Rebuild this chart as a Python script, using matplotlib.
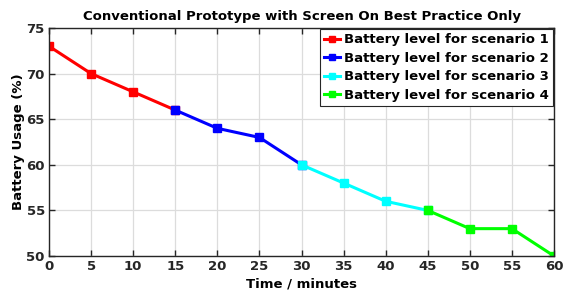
import matplotlib
matplotlib.use("Agg")
import matplotlib.pyplot as plt

plt.rcParams['font.family'] = ['DejaVu Sans']
plt.rcParams['font.weight'] = 'bold'

x1 = [0, 5, 10, 15]
y1 = [73, 70, 68, 66]
x2 = [15, 20, 25, 30]
y2 = [66, 64, 63, 60]
x3 = [30, 35, 40, 45]
y3 = [60, 58, 56, 55]
x4 = [45, 50, 55, 60]
y4 = [55, 53, 53, 50]
labels = ['Battery level for scenario 1', 'Battery level for scenario 2',
          'Battery level for scenario 3', 'Battery level for scenario 4']
colors = ['#ff0000', '#0000ff', '#00ffff', '#00ff00']
xticks = list(range(0, 61, 5))
yticks = [50, 55, 60, 65, 70, 75]

fig = plt.figure(figsize=(5.64, 2.96), dpi=100)
ax = fig.add_axes([0.0869, 0.1351, 0.8954, 0.7703])
for xs, ys, c, lab in zip([x1, x2, x3, x4], [y1, y2, y3, y4], colors, labels):
    ax.plot(xs, ys, color=c, lw=2.2, marker='s', ms=6, mfc=c, mec=c, label=lab)

ax.set_xlim(0, 60)
ax.set_ylim(50, 75)
ax.set_xticks(xticks)
ax.set_yticks(yticks)
ax.tick_params(direction='in', top=True, right=True, labelsize=9.5, length=4, width=1, pad=3, colors='#262626')
for lbl in ax.get_xticklabels() + ax.get_yticklabels():
    lbl.set_fontweight('bold')
for s in ax.spines.values():
    s.set_linewidth(1.0)
    s.set_color('#262626')
ax.grid(True, color='#dcdcdc', lw=0.9)
ax.set_axisbelow(True)
ax.set_title('Conventional Prototype with Screen On Best Practice Only', fontsize=9.5, fontweight='bold', pad=6)
ax.set_xlabel('Time / minutes', fontsize=9.5, fontweight='bold', labelpad=3)
ax.set_ylabel('Battery Usage (%)', fontsize=9.5, fontweight='bold', labelpad=1)
leg = ax.legend(loc='upper right', fontsize=9.5, frameon=True, fancybox=False, handlelength=1.2,
                handletextpad=0.3, borderpad=0.3, labelspacing=0.42, borderaxespad=0.1, markerscale=0.7)
leg.get_frame().set_edgecolor('#262626')
leg.get_frame().set_linewidth(0.8)
leg.get_frame().set_alpha(1)
for t in leg.get_texts():
    t.set_fontweight('bold')

fig.savefig('out.png', dpi=100)
